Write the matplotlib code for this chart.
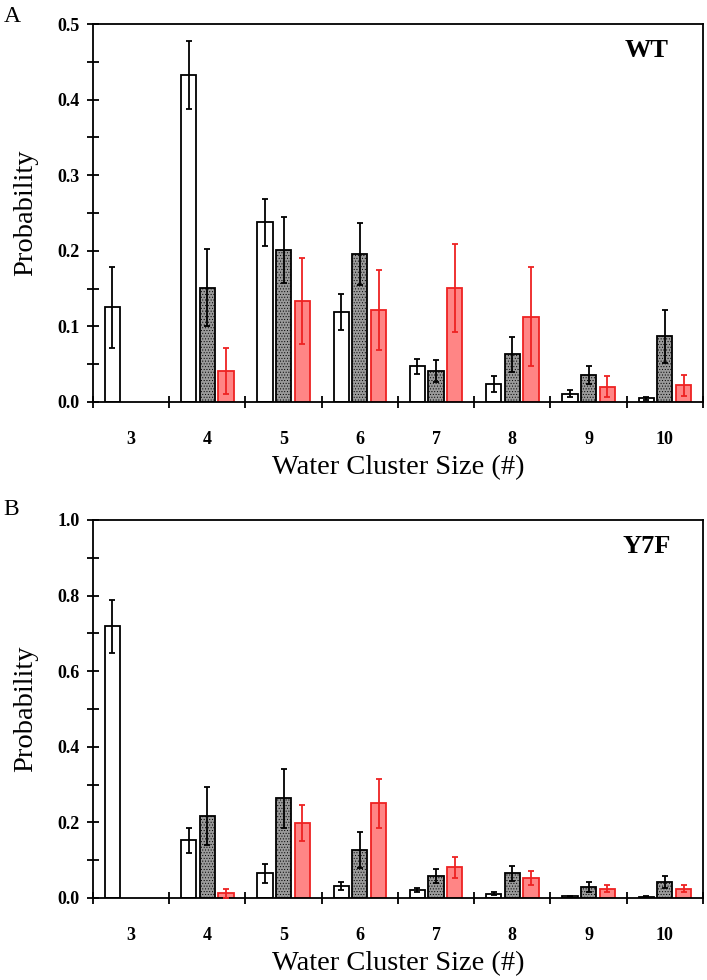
import matplotlib
matplotlib.use('Agg')
import matplotlib.pyplot as plt
import numpy as np

plt.rcParams['font.family'] = ['Liberation Serif', 'DejaVu Serif']
plt.rcParams['hatch.linewidth'] = 0.4

sizes = [3, 4, 5, 6, 7, 8, 9, 10]

# WT panel -------------------------------
wt_white = [0.125, 0.432, 0.238, 0.119, 0.047, 0.024, 0.011, 0.005]
wt_white_err = [0.053, 0.045, 0.031, 0.024, 0.010, 0.011, 0.005, 0.002]
wt_gray = [0.0, 0.151, 0.201, 0.196, 0.041, 0.063, 0.036, 0.087]
wt_gray_err = [0.0, 0.051, 0.044, 0.041, 0.014, 0.023, 0.012, 0.035]
wt_red = [0.0, 0.041, 0.134, 0.122, 0.151, 0.113, 0.020, 0.022]
wt_red_err = [0.0, 0.031, 0.057, 0.053, 0.058, 0.065, 0.014, 0.014]

# Y7F panel -------------------------------
y7f_white = [0.719, 0.153, 0.065, 0.032, 0.021, 0.011, 0.004, 0.003]
y7f_white_err = [0.070, 0.033, 0.025, 0.010, 0.005, 0.004, 0.001, 0.001]
y7f_gray = [0.0, 0.217, 0.264, 0.127, 0.058, 0.065, 0.029, 0.042]
y7f_gray_err = [0.0, 0.076, 0.078, 0.048, 0.018, 0.020, 0.012, 0.016]
y7f_red = [0.0, 0.012, 0.198, 0.250, 0.081, 0.053, 0.025, 0.025]
y7f_red_err = [0.0, 0.011, 0.048, 0.066, 0.027, 0.019, 0.009, 0.009]


def draw_panel(ax, white, white_err, gray, gray_err, red, red_err, ymax, ystep, name):
    x = np.array(sizes, dtype=float)
    w = 0.2
    off = 0.245

    def keep(vals):
        return [i for i, v in enumerate(vals) if v > 0]

    for vals, errs, dx, fc, ec, hatch in [
            (white, white_err, -off, 'white', 'black', None),
            (gray, gray_err, 0.0, '#9a9a9a', 'black', '......'),
            (red, red_err, off, '#ff8585', '#ee2222', None)]:
        idx = keep(vals)
        xs = x[idx] + dx
        v = np.array(vals)[idx]
        e = np.array(errs)[idx]
        ax.bar(xs, v, width=w, facecolor=fc, edgecolor=ec, linewidth=1.3,
               hatch=hatch, zorder=2)
        ax.errorbar(xs, v, yerr=e, fmt='none', ecolor=ec, elinewidth=1.3,
                    capsize=2.5, capthick=1.3, zorder=3)

    ax.set_xlim(2.5, 10.5)
    ax.set_ylim(0, ymax)
    ax.set_xticks(sizes)
    ax.set_xticklabels([str(s) for s in sizes])
    ax.set_xticks(np.arange(2.5, 10.6, 1.0), minor=True)
    ax.tick_params(axis='x', which='major', length=0, pad=21, labelsize=13)
    ax.tick_params(axis='x', which='minor', direction='inout', length=9, width=1.3)
    ax.set_yticks(np.arange(0, ymax + 1e-9, ystep))
    ax.set_yticklabels(['%.1f' % t for t in np.arange(0, ymax + 1e-9, ystep)])
    ax.set_yticks(np.arange(0, ymax + 1e-9, ystep / 2), minor=True)
    ax.tick_params(axis='y', which='both', direction='inout', length=9, width=1.3,
                   labelsize=13, pad=5)
    for lbl in ax.get_xticklabels() + ax.get_yticklabels():
        lbl.set_fontweight('bold')
    for sp in ax.spines.values():
        sp.set_linewidth(1.3)
    ax.set_xlabel('Water Cluster Size (#)', fontsize=20.5, labelpad=5)
    ax.set_ylabel('Probability', fontsize=20.5, labelpad=14)
    ax.text(0.908, 0.929, name, transform=ax.transAxes, fontsize=19,
            fontweight='bold', ha='center', va='center')


fig = plt.figure(figsize=(7.07, 9.8), dpi=100)
ax1 = fig.add_axes([0.1315, 0.5898, 0.8628, 0.3857])
ax2 = fig.add_axes([0.1315, 0.0837, 0.8628, 0.3857])

draw_panel(ax1, wt_white, wt_white_err, wt_gray, wt_gray_err, wt_red, wt_red_err,
           0.5, 0.1, 'WT')
draw_panel(ax2, y7f_white, y7f_white_err, y7f_gray, y7f_gray_err, y7f_red, y7f_red_err,
           1.0, 0.2, 'Y7F')

fig.text(0.005, 0.983, 'A', fontsize=17, va='center')
fig.text(0.005, 0.480, 'B', fontsize=17, va='center')

fig.savefig('out.png', dpi=100)
